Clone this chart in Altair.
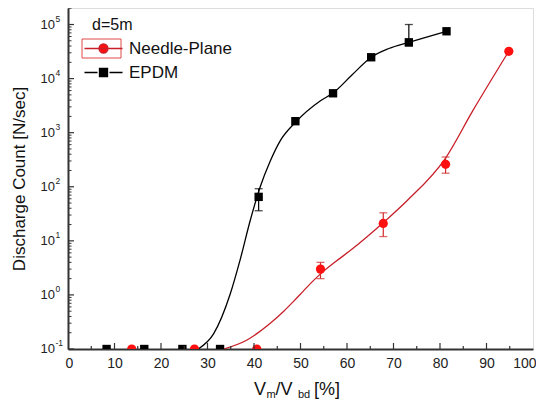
import altair as alt
import pandas as pd

# ---------------- data ----------------
series_names = ["Needle-Plane", "EPDM"]

epdm_x = [8.3, 16.4, 24.6, 32.7, 41.0, 48.9, 57.0, 65.2, 73.3, 81.4]
epdm_y = [0.1, 0.1, 0.1, 0.1, 65, 1630, 5350, 24800, 46900, 75000]
epdm_err_x = [41.0, 73.3]
epdm_err_lo = [36, 40000]
epdm_err_hi = [92, 100000]

needle_x = [13.7, 27.2, 40.6, 54.3, 67.8, 81.2, 94.8]
needle_y = [0.1, 0.1, 0.1, 3.0, 21, 260, 32000]
needle_err_x = [54.3, 67.8, 81.2]
needle_err_lo = [2.0, 12, 178]
needle_err_hi = [4.0, 33, 355]

# fitted curves
epdm_fit_x = [28.0, 31.3, 34.9, 37.0, 39.2, 41.3, 43.5, 45.6, 48.9, 54.3, 57.0, 61.0, 65.2, 69.0, 73.3, 81.4]
epdm_fit_y = [0.1, 0.19, 1.05, 4.4, 24, 98, 300, 700, 1550, 3900, 5400, 11500, 24800, 36000, 46900, 75000]
needle_fit_x = [33.5, 38.5, 43.5, 46.4, 48.5, 50.7, 52.5, 54.3, 57.5, 60.7, 67.9, 72.9, 81.2, 87.0, 94.8]
needle_fit_y = [0.1, 0.147, 0.30, 0.50, 0.76, 1.20, 1.74, 2.45, 4.1, 6.6, 22, 55, 340, 2500, 32000]

x_labels = [0, 10, 20, 30, 40, 50, 60, 70, 80, 90, 100]
x_major = [10, 20, 30, 40, 50, 60, 70, 80, 90]
x_minor = [5, 15, 25, 35, 45, 55, 65, 75, 85, 95]
y_decades = [0.1, 1, 10, 100, 1000, 10000, 100000]
y_exponents = ["-1", "0", "1", "2", "3", "4", "5"]
y_minor = [m * d for d in [0.1, 1, 10, 100, 1000, 10000] for m in range(2, 10)] + [200000]

# ---------------- layout / style ----------------
W, H = 465, 341
FONT = "Liberation Sans"
RED = "#ff1010"
RED_LINE = "#c8202a"
RED_ERR = "#d02a2a"

xscale = alt.Scale(domain=[0, 100], nice=False, zero=False)
yscale = alt.Scale(type="log", domain=[0.1, 202000], nice=False)
xaxis = alt.Axis(values=x_labels, labelFontSize=14, labelFont=FONT, labelColor="#222",
                 ticks=False, grid=False, domainColor="#333", domainWidth=2,
                 labelPadding=7, labelFlush=True, labelFlushOffset=3, title=None)
yaxis = alt.Axis(labels=False, ticks=False, grid=False, domainColor="#333", domainWidth=2,
                 title="Discharge Count [N/sec]", titleFontSize=17, titleFont=FONT,
                 titleFontWeight="normal", titleColor="#111", titleX=-40, titleY=H / 2)


def X(f):
    return alt.X(f, type="quantitative", scale=xscale, axis=xaxis)


def Y(f):
    return alt.Y(f, type="quantitative", scale=yscale, axis=yaxis)


df_epdm = pd.DataFrame({"x": epdm_x, "y": epdm_y})
df_needle = pd.DataFrame({"x": needle_x, "y": needle_y})
df_epdm_err = pd.DataFrame({"x": epdm_err_x, "lo": epdm_err_lo, "hi": epdm_err_hi})
df_needle_err = pd.DataFrame({"x": needle_err_x, "lo": needle_err_lo, "hi": needle_err_hi})
df_epdm_fit = pd.DataFrame({"x": epdm_fit_x, "y": epdm_fit_y})
df_needle_fit = pd.DataFrame({"x": needle_fit_x, "y": needle_fit_y})

# curves
fit_epdm = alt.Chart(df_epdm_fit).mark_line(interpolate="monotone", clip=True, color="#000",
                                            strokeWidth=1.3).encode(x=X("x"), y=Y("y"))
fit_needle = alt.Chart(df_needle_fit).mark_line(interpolate="monotone", clip=True, color=RED_LINE,
                                                strokeWidth=1.3).encode(x=X("x"), y=Y("y"))


# error bars
def errbars(df, color):
    r = alt.Chart(df).mark_rule(color=color, strokeWidth=1.2).encode(x=X("x"), y=Y("lo"), y2="hi")
    t1 = alt.Chart(df).mark_tick(color=color, orient="horizontal", size=8, thickness=1.3).encode(
        x=X("x"), y=Y("lo"))
    t2 = alt.Chart(df).mark_tick(color=color, orient="horizontal", size=8, thickness=1.3).encode(
        x=X("x"), y=Y("hi"))
    return [r, t1, t2]


# points
pts_epdm = alt.Chart(df_epdm).mark_point(shape="square", filled=True, color="#000", size=70,
                                         opacity=1, clip=True).encode(x=X("x"), y=Y("y"))
pts_needle = alt.Chart(df_needle).mark_point(shape="circle", filled=True, color=RED, size=85,
                                             opacity=1, clip=True).encode(x=X("x"), y=Y("y"))

# inward ticks
df_xmaj = pd.DataFrame({"x": x_major})
df_xmin = pd.DataFrame({"x": x_minor})
df_ymaj = pd.DataFrame({"y": y_decades, "e": y_exponents})
df_ymin = pd.DataFrame({"y": y_minor})
TICK = "#333"
xt_maj = alt.Chart(df_xmaj).mark_rule(color=TICK, strokeWidth=1.2).encode(
    x=X("x"), y=alt.value(H), y2=alt.value(H - 6))
xt_min = alt.Chart(df_xmin).mark_rule(color=TICK, strokeWidth=1.2).encode(
    x=X("x"), y=alt.value(H), y2=alt.value(H - 3))
yt_maj = alt.Chart(df_ymaj).mark_rule(color=TICK, strokeWidth=1.2).encode(
    y=Y("y"), x=alt.value(0), x2=alt.value(6))
yt_min = alt.Chart(df_ymin).mark_rule(color=TICK, strokeWidth=1, clip=True).encode(
    y=Y("y"), x=alt.value(0), x2=alt.value(3.5))

# y tick labels 10^n
ylab_base = alt.Chart(df_ymaj).mark_text(align="right", baseline="middle", fontSize=13, font=FONT,
                                         color="#222").encode(
    y=Y("y"), x=alt.value(-13), text=alt.value("10"))
ylab_exp = alt.Chart(df_ymaj).mark_text(align="left", baseline="middle", fontSize=8.5, font=FONT,
                                        color="#222", dy=-6).encode(
    y=Y("y"), x=alt.value(-12.5), text="e:N")

# x title with subscripts
one = pd.DataFrame({"k": [0]})


def txt(s, px, py, size):
    return alt.Chart(one).mark_text(align="left", baseline="alphabetic", fontSize=size, font=FONT,
                                    color="#111").encode(x=alt.value(px), y=alt.value(py),
                                                         text=alt.value(s))


xtitle = [txt("V", 186, 386.5, 18), txt("m", 198.5, 389.5, 11), txt("/V", 207.5, 386.5, 18),
          txt("bd", 230, 389.5, 11), txt("[%]", 246, 386.5, 18)]

# legend (custom symbols: line with marker)
NEEDLE_PATH = "M-3.17,0H3.17M0.75,0A0.75,0.75,0,1,1,-0.75,0A0.75,0.75,0,1,1,0.75,0Z"
EPDM_PATH = "M-3.17,0H-1M1,0H3.17M-0.67,-0.67H0.67V0.67H-0.67Z"
leg = alt.Legend(orient="none", legendX=27, legendY=32, title=None, labelFontSize=17,
                 labelFont=FONT, labelColor="#111", labelOffset=17, rowPadding=6, padding=0,
                 symbolSize=144, symbolStrokeWidth=1.3)
df_leg = pd.DataFrame({"x": [-50, -50], "y": [1, 1], "s": series_names})
legend_layer = alt.Chart(df_leg).mark_point(filled=True, size=144, strokeWidth=1.3, opacity=1,
                                            clip=True).encode(
    x=X("x"), y=Y("y"),
    fill=alt.Fill("s:N", scale=alt.Scale(domain=series_names, range=[RED, "#000"]), legend=leg),
    stroke=alt.Stroke("s:N", scale=alt.Scale(domain=series_names, range=[RED_LINE, "#000"]), legend=leg),
    shape=alt.Shape("s:N", scale=alt.Scale(domain=series_names, range=[NEEDLE_PATH, EPDM_PATH]), legend=leg),
)
legend_box = alt.Chart(one).mark_rect(fill=None, stroke="#e04848", strokeWidth=1).encode(
    x=alt.value(14), x2=alt.value(53), y=alt.value(31), y2=alt.value(50))
d_label = alt.Chart(one).mark_text(align="left", baseline="alphabetic", fontSize=16, font=FONT,
                                   color="#111").encode(x=alt.value(24), y=alt.value(21.5),
                                                        text=alt.value("d=5m"))

layers = ([fit_epdm, fit_needle] + errbars(df_epdm_err, "#000") + errbars(df_needle_err, RED_ERR)
          + [pts_epdm, pts_needle, xt_maj, xt_min, yt_maj, yt_min, ylab_base, ylab_exp]
          + xtitle + [legend_layer, legend_box, d_label])

chart = alt.layer(*layers).properties(
    width=W, height=H,
    autosize=alt.AutoSizeParams(type="none"),
    padding={"left": 60, "top": 0, "right": 3, "bottom": 51},
).configure_view(stroke="#555", strokeWidth=2).configure(background="white")

chart.save("out.html", embed_options={"renderer": "svg", "actions": False})
